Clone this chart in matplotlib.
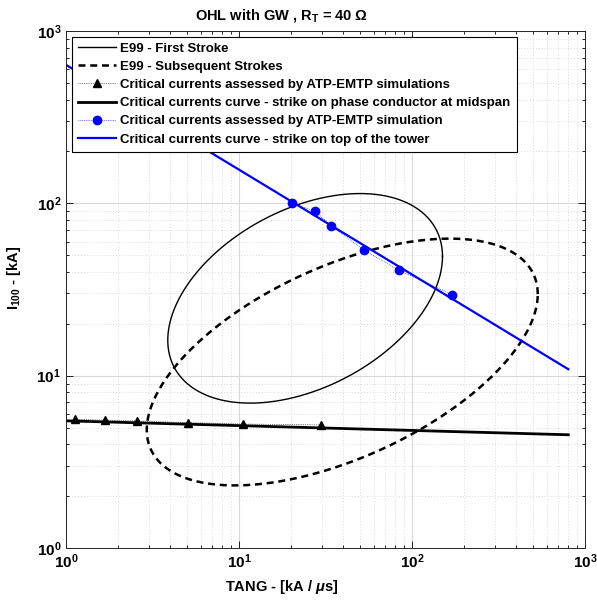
#!/usr/bin/env python3
"""Critical currents vs E99 lightning distributions (OHL with GW, RT = 40 ohm)."""

import numpy as np
import matplotlib

matplotlib.use("Agg")
import matplotlib.pyplot as plt
from matplotlib.ticker import FuncFormatter, LogLocator

plt.rcParams.update(
    {
        "font.family": ["Liberation Sans", "DejaVu Sans"],
        "font.weight": "bold",
        "mathtext.fontset": "custom",
        "mathtext.rm": "Liberation Sans",
        "mathtext.it": "Liberation Sans:italic",
        "mathtext.bf": "Liberation Sans:bold",
    }
)

# E99 ellipses: centre (TANG kA/us, I kA), half extent in decades, correlation
FS_CENTER = (24.1, 28.1)
FS_HALF_DEC = (0.794, 0.608)
FS_RHO = 0.40
SS_CENTER = (39.5, 12.0)
SS_HALF_DEC = (1.13, 0.716)
SS_RHO = 0.55

# strike on phase conductor at midspan
mid_tang = [1.13, 1.68, 2.57, 5.07, 10.5, 29.8]
mid_i = [5.58, 5.52, 5.46, 5.34, 5.24, 5.18]
mid_curve_tang = [1.0, 800.0]
mid_curve_i = [5.47, 4.54]

# strike on top of the tower
top_tang = [20.2, 27.5, 34.0, 53.0, 84.1, 171.0]
top_i = [100.0, 90.2, 73.8, 53.5, 40.8, 29.5]
top_curve_tang = [1.0, 800.0]
top_curve_i = [636.0, 10.9]


def ellipse(center, half_dec, rho, n=400):
    t = np.linspace(0, 2 * np.pi, n)
    u = half_dec[0] * np.cos(t)
    v = half_dec[1] * (rho * np.cos(t) + np.sqrt(1 - rho**2) * np.sin(t))
    return center[0] * 10**u, center[1] * 10**v


fig = plt.figure(figsize=(5.97, 6.04), dpi=100)
ax = fig.add_axes([0.1106, 0.0927, 0.8694, 0.856])
ax.set_xscale("log")
ax.set_yscale("log")

x, y = ellipse(FS_CENTER, FS_HALF_DEC, FS_RHO)
ax.plot(x, y, color="black", lw=1.0, label="E99 - First Stroke")
x, y = ellipse(SS_CENTER, SS_HALF_DEC, SS_RHO)
ax.plot(x, y, color="black", lw=1.8, ls=(0, (2.8, 1.9)), label="E99 - Subsequent Strokes")

ax.plot(mid_tang, mid_i, ls=":", lw=0.5, color="black", marker="^", ms=6,
        label="Critical currents assessed by ATP-EMTP simulations")
ax.plot(mid_curve_tang, mid_curve_i, color="black", lw=2.0,
        label="Critical currents curve - strike on phase conductor at midspan")
ax.plot(top_tang, top_i, ls=":", lw=0.5, color="blue", marker="o", ms=6,
        label="Critical currents assessed by ATP-EMTP simulation")
ax.plot(top_curve_tang, top_curve_i, color="blue", lw=1.6,
        label="Critical currents curve - strike on top of the tower")

ax.set_xlim(1, 1000)
ax.set_ylim(1, 1000)

fmt = FuncFormatter(lambda v, p: r"$\mathbf{10^{%d}}$" % round(np.log10(v)))
for axis in (ax.xaxis, ax.yaxis):
    axis.set_major_locator(LogLocator(base=10, numticks=10))
    axis.set_minor_locator(LogLocator(base=10, subs=np.arange(2, 10), numticks=20))
    axis.set_major_formatter(fmt)
ax.tick_params(which="both", direction="in", top=True, right=True, labelsize=11, width=0.6)
ax.tick_params(which="major", length=5)
ax.tick_params(which="minor", length=2.5)
ax.grid(True, which="major", color="#d9d9d9", lw=0.8)
ax.grid(True, which="minor", color="#cfcfcf", lw=0.6, ls=(0, (1, 2.5)))
for s in ax.spines.values():
    s.set_linewidth(0.7)
    s.set_color("#262626")

ax.set_xlabel(r"TANG - [kA / $\mu$s]", fontsize=10.5, fontweight="bold", labelpad=4)
ax.xaxis.set_label_coords(0.416, -0.058)
ax.set_ylabel(r"I$_{\mathbf{100}}$ - [kA]", fontsize=10.5, fontweight="bold", labelpad=4)
ax.yaxis.set_label_coords(-0.082, 0.522)
title = ax.set_title(r"OHL with GW , R$_{\mathbf{T}}$ = 40 $\Omega$", fontsize=10.5,
                     fontweight="bold", pad=8)
title.set_x(0.416)

leg = ax.legend(loc="upper left", prop={"weight": "bold", "size": 9.5},
                fancybox=False, framealpha=1, edgecolor="black", borderaxespad=0.42,
                handlelength=2.9, handletextpad=0.35, labelspacing=0.45,
                borderpad=0.45)
leg.get_frame().set_linewidth(0.8)

fig.savefig("out.png", dpi=100)
